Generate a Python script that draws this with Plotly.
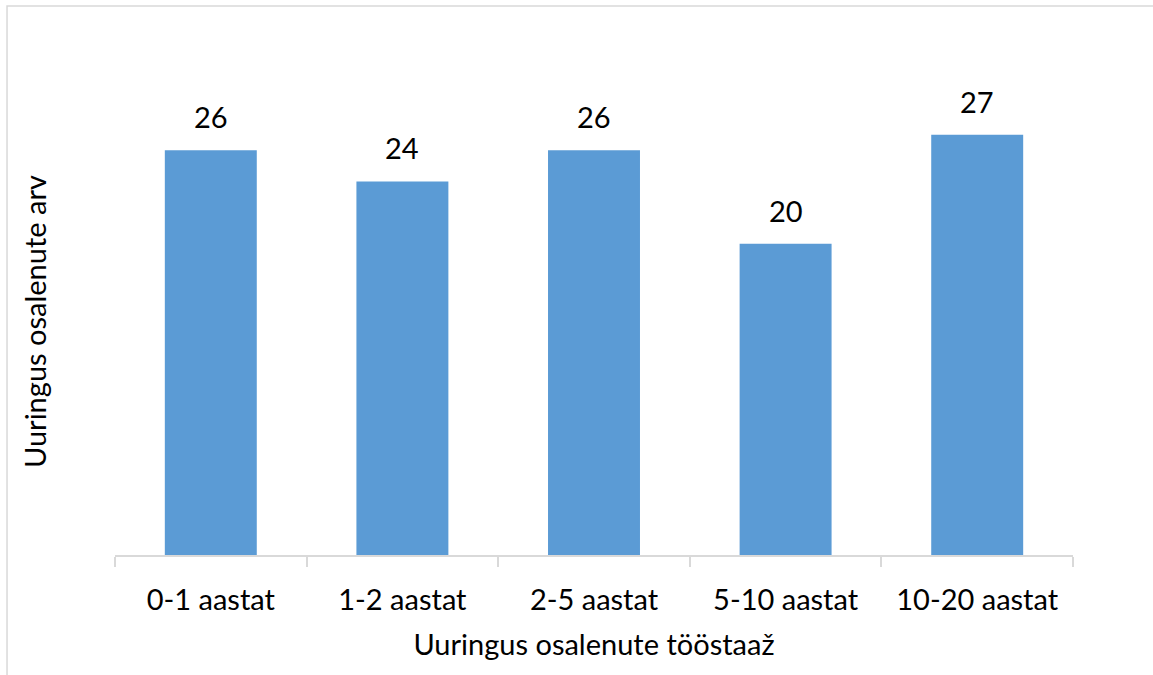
import plotly.graph_objects as go

categories = ["0-1 aastat", "1-2 aastat", "2-5 aastat", "5-10 aastat", "10-20 aastat"]
counts = [26, 24, 26, 20, 27]

BAR_COLOR = "#5B9BD5"
GRID_GRAY = "#D9D9D9"
FONT = "Lato"
SIZE = 29

fig = go.Figure(
    go.Bar(
        x=categories,
        y=counts,
        marker=dict(color=BAR_COLOR, line=dict(width=0)),
        hoverinfo="x+y",
    )
)

# Value labels above each bar
for cat, val in zip(categories, counts):
    fig.add_annotation(
        x=cat, y=val, text=str(val), showarrow=False,
        yanchor="bottom", yshift=14,
        font=dict(family=FONT, size=SIZE, color="#000000"),
    )

# Light frame around the chart area
fig.add_shape(
    type="rect", xref="paper", yref="paper",
    x0=-0.1127, x1=1.3, y0=-0.5, y1=1.1756,
    line=dict(color=GRID_GRAY, width=1.5), fillcolor="rgba(0,0,0,0)",
    layer="below",
)

fig.update_layout(
    width=1153, height=675,
    margin=dict(l=115, r=80, t=88, b=120),
    paper_bgcolor="white", plot_bgcolor="white",
    bargap=0.52,
    showlegend=False,
    font=dict(family=FONT, size=SIZE, color="#000000"),
    xaxis=dict(
        showline=True, linecolor=GRID_GRAY, linewidth=1.5,
        ticks="outside", tickson="boundaries", ticklen=10,
        tickcolor=GRID_GRAY, tickwidth=1.5,
        ticklabelstandoff=18,
        tickfont=dict(family=FONT, size=SIZE, color="#000000"),
        title=dict(text="Uuringus osalenute tööstaaž",
                   font=dict(family=FONT, size=SIZE, color="#000000"),
                   standoff=20),
        showgrid=False, zeroline=False,
    ),
    yaxis=dict(
        range=[0, 30], showticklabels=False, showgrid=False,
        zeroline=False, showline=False, ticks="",
        title=dict(text="Uuringus osalenute arv",
                   font=dict(family=FONT, size=SIZE, color="#000000"),
                   standoff=58),
    ),
)

fig.write_html("out.html")
